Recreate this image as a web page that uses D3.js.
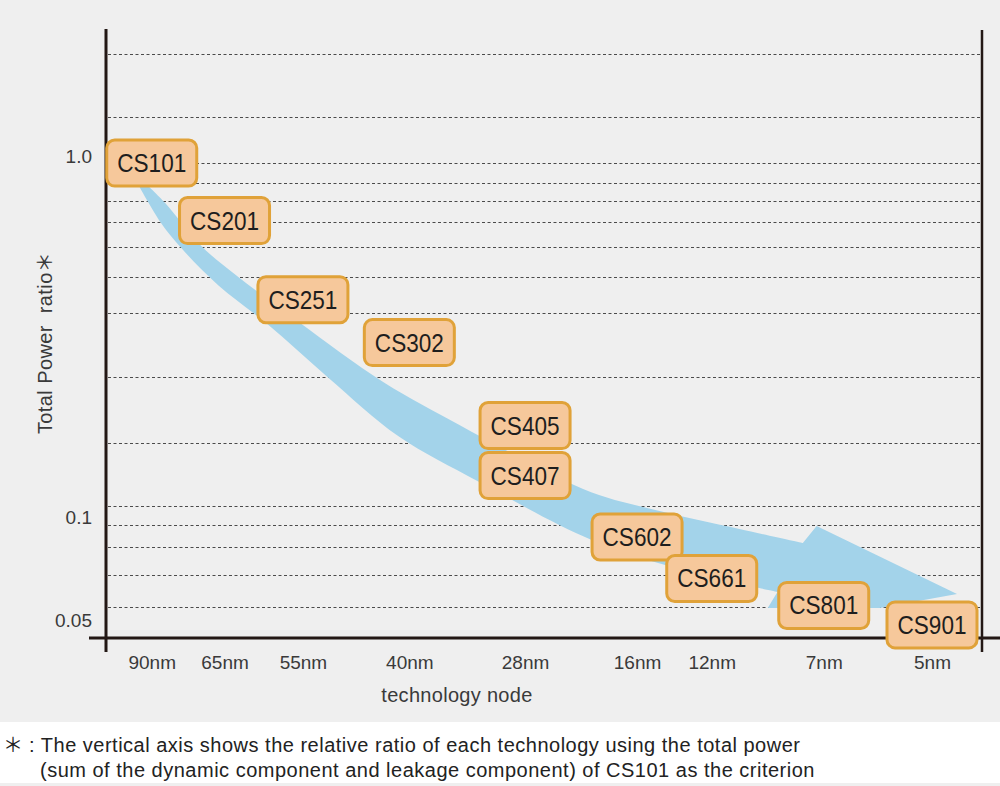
<!DOCTYPE html>
<html>
<head>
<meta charset="utf-8">
<script src="https://cdn.jsdelivr.net/npm/d3@7"></script>
<style>
  body { margin: 0; background: #fff; }
  svg { display: block; font-family: "Liberation Sans", Arial, Helvetica, sans-serif; }
  .star { font-family: "Noto Sans CJK JP", "Noto Sans CJK SC", sans-serif; }
</style>
</head>
<body>
<div id="chart"></div>
<script>
// Noeuds technologiques (axe X) et leur espacement relatif sur l'axe
const nodes = ['90nm', '65nm', '55nm', '40nm', '28nm', '16nm', '12nm', '7nm', '5nm']
const nodeSlots = [0.1, 2.05, 4.15, 7, 10.1, 13.1, 15.1, 18.1, 21]

// Puces : nom, noeud et ratio de puissance totale (CS101 = 1.0)
const chips = ['CS101', 'CS201', 'CS251', 'CS302', 'CS405', 'CS407', 'CS602', 'CS661', 'CS801', 'CS901']
const chipNodes = ['90nm', '65nm', '55nm', '40nm', '28nm', '28nm', '16nm', '12nm', '7nm', '5nm']
const chipRatios = [1.0, 0.68, 0.40, 0.30, 0.172, 0.123, 0.0815, 0.0617, 0.0515, 0.0452]

// Graduations de l'axe Y (log)
const yTicks = [1.0, 0.1, 0.05]
const yTickLabels = ['1.0', '0.1', '0.05']
const yDomain = [0.0414, 2.44]

// Lignes pointillées horizontales (ratios)
const gridRatios = [2.08, 1.36, 1.0, 0.875, 0.775, 0.673, 0.569, 0.466, 0.366, 0.238, 0.153,
    0.1, 0.0884, 0.0762, 0.0632, 0.051]

// Flèche de tendance : bords [slot, ratio]
const trendUpper = [[-0.05, 0.869], [0.46, 0.765], [1.40, 0.577], [2.42, 0.466], [4.03, 0.345],
    [6.31, 0.230], [8.33, 0.173], [10.07, 0.137], [11.87, 0.110], [13.70, 0.097], [15.84, 0.086],
    [17.54, 0.0783]]
const trendHead = [[17.91, 0.0877], [21.67, 0.0556], [19.60, 0.0506], [16.60, 0.0506]]
const trendLower = [[-0.27, 0.869], [0.35, 0.669], [0.94, 0.558], [1.88, 0.441], [3.22, 0.338],
    [4.83, 0.237], [6.71, 0.160], [8.86, 0.118], [11.87, 0.080], [14.50, 0.0645], [16.86, 0.0564]]

// Textes
const star = '\uff0a'
const yTitle = 'Total Power\u00a0 ratio'
const xTitle = 'technology node'
const notes = [
    ' : The vertical axis shows the relative ratio of each technology using the total power',
    '(sum of the dynamic component and leakage component) of CS101 as the criterion'
]

/**---------------------------------------------
 * Mise en place
 *--------------------------------------------*/
const width = 1000,
    height = 786
const axisColor = '#231815'

const svg = d3.select('#chart')
    .append('svg')
    .attr('width', width)
    .attr('height', height)

// Fond gris de la zone du graphe
svg.append('rect')
    .attr('width', width)
    .attr('height', 722)
    .attr('fill', '#efefef')
svg.append('rect')
    .attr('y', 783)
    .attr('width', width)
    .attr('height', 3)
    .attr('fill', '#efefef')

// Echelles
const x = d3.scaleLinear()
    .domain([0, 21])
    .range([148, 932])
const y = d3.scaleLog()
    .domain(yDomain)
    .range([638, 30])

const left = 106,
    right = 982,
    bottom = y(yDomain[0])

/**---------------------------------------------
 * Lignes pointillées
 *--------------------------------------------*/
svg.append('g')
    .selectAll('line')
    .data(gridRatios)
    .join('line')
    .attr('x1', left + 2)
    .attr('x2', right - 2)
    .attr('y1', d => Math.round(y(d)) + 0.5)
    .attr('y2', d => Math.round(y(d)) + 0.5)
    .attr('stroke', '#4a4a4a')
    .attr('stroke-width', 1)
    .attr('stroke-dasharray', '3,2.5')

/**---------------------------------------------
 * Flèche de tendance
 *--------------------------------------------*/
const edge = d3.line()
    .x(d => x(d[0]))
    .y(d => y(d[1]))
    .curve(d3.curveCatmullRom)

const headPath = trendHead.map(d => `L${x(d[0])},${y(d[1])}`).join('')
const backPath = edge(trendLower.slice().reverse()).replace(/^M/, 'L')

svg.append('path')
    .attr('d', edge(trendUpper) + headPath + backPath + 'Z')
    .attr('fill', '#a3d3ea')

/**---------------------------------------------
 * Axes
 *--------------------------------------------*/
svg.append('line')
    .attr('x1', left).attr('x2', left)
    .attr('y1', y.range()[1] - 1).attr('y2', bottom + 14)
    .attr('stroke', axisColor)
    .attr('stroke-width', 3)
svg.append('line')
    .attr('x1', right).attr('x2', right)
    .attr('y1', y.range()[1]).attr('y2', bottom + 14)
    .attr('stroke', axisColor)
    .attr('stroke-width', 2.5)
svg.append('line')
    .attr('x1', left - 17).attr('x2', width)
    .attr('y1', bottom).attr('y2', bottom)
    .attr('stroke', axisColor)
    .attr('stroke-width', 3)

// Libellés de l'axe X
const xAxis = svg.append('g')
    .attr('transform', `translate(0, ${bottom})`)
    .call(d3.axisBottom(x)
        .tickValues(nodeSlots)
        .tickFormat((d, i) => nodes[i])
        .tickSize(0)
        .tickPadding(18))
    .attr('font-family', null)
    .attr('font-size', 19)
xAxis.select('.domain').remove()
xAxis.selectAll('text').attr('fill', '#3a3a3a')

// Libellés de l'axe Y
const yAxis = svg.append('g')
    .attr('transform', `translate(${left}, 0)`)
    .call(d3.axisLeft(y)
        .tickValues(yTicks)
        .tickFormat((d, i) => yTickLabels[i])
        .tickSize(0)
        .tickPadding(14))
    .attr('font-family', null)
    .attr('font-size', 19)
yAxis.select('.domain').remove()
yAxis.selectAll('text')
    .attr('fill', '#3a3a3a')
    .attr('dy', d => d === 1 ? -1 : 17)

// Titres des axes
const yTitleText = svg.append('text')
    .attr('transform', 'translate(52, 343) rotate(-90)')
    .attr('text-anchor', 'middle')
    .attr('font-size', 20)
    .attr('letter-spacing', 0.4)
    .attr('fill', '#3a3a3a')
yTitleText.append('tspan').text(yTitle)
yTitleText.append('tspan').attr('class', 'star').text(star)

svg.append('text')
    .attr('x', 457)
    .attr('y', 702)
    .attr('text-anchor', 'middle')
    .attr('font-size', 20)
    .attr('letter-spacing', 0.3)
    .attr('fill', '#3a3a3a')
    .text(xTitle)

/**---------------------------------------------
 * Etiquettes des puces
 *--------------------------------------------*/
const chip = svg.append('g')
    .selectAll('g')
    .data(chips)
    .join('g')
    .attr('transform', (d, i) => {
        const slot = nodeSlots[nodes.indexOf(chipNodes[i])]
        return `translate(${x(slot)}, ${y(chipRatios[i])})`
    })

chip.append('rect')
    .attr('x', -45)
    .attr('y', -23)
    .attr('width', 90)
    .attr('height', 46)
    .attr('rx', 8)
    .attr('fill', '#f6c89b')
    .attr('stroke', '#e0a239')
    .attr('stroke-width', 3)

chip.append('text')
    .attr('text-anchor', 'middle')
    .attr('dy', '0.36em')
    .attr('font-size', 25)
    .attr('textLength', 69)
    .attr('lengthAdjust', 'spacingAndGlyphs')
    .attr('fill', '#1e1e1e')
    .text(d => d)

/**---------------------------------------------
 * Note de bas de page
 *--------------------------------------------*/
const note = svg.append('g')
    .selectAll('text')
    .data(notes)
    .join('text')
    .attr('x', (d, i) => i === 0 ? 3 : 40)
    .attr('y', (d, i) => 752 + i * 25)
    .attr('font-size', 20)
    .attr('letter-spacing', 0.5)
    .attr('fill', '#222')

note.filter((d, i) => i === 0)
    .append('tspan')
    .attr('class', 'star')
    .attr('letter-spacing', 0)
    .text(star)
note.append('tspan').text(d => d)
</script>
</body>
</html>
